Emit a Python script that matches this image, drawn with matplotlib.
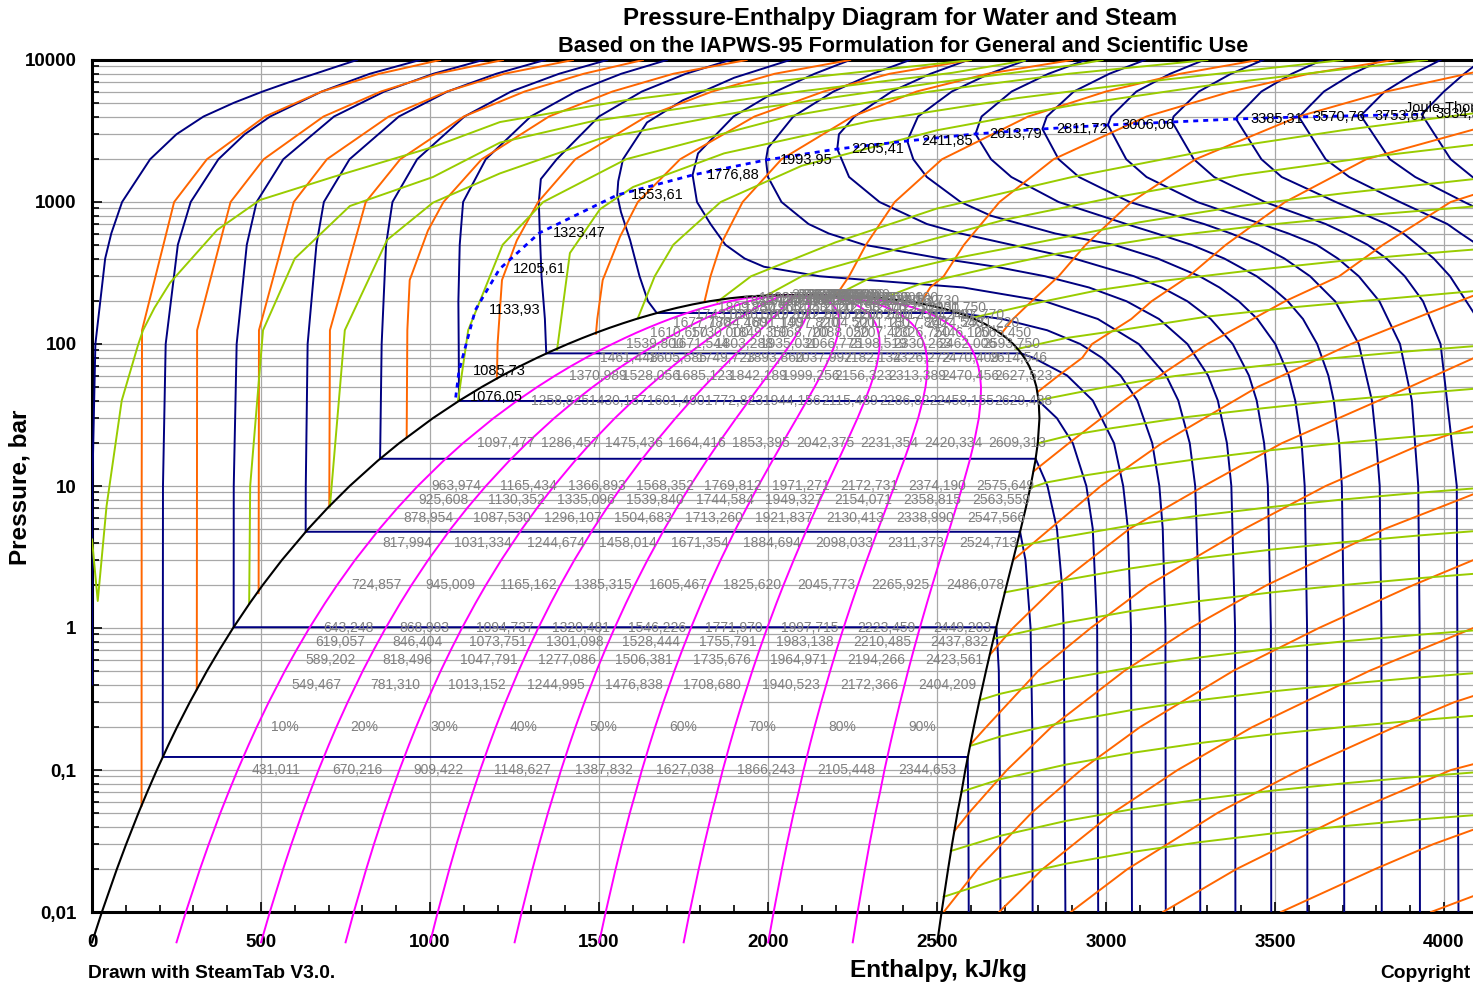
import matplotlib
matplotlib.use("Agg")
import matplotlib.pyplot as plt
from matplotlib.ticker import FixedLocator, FixedFormatter, NullFormatter

plt.rcParams['font.family'] = ['Liberation Sans', 'DejaVu Sans']

# ---------------- data (enthalpy kJ/kg, pressure bar) ----------------
sat_p = [0.006117, 0.01, 0.02, 0.03, 0.05, 0.07, 0.1, 0.15, 0.2, 0.3, 0.5, 0.7, 1, 1.5, 2, 3, 5, 7,
         10, 15, 20, 30, 40, 50, 60, 70, 80, 90, 100, 110, 120, 130, 140, 150, 160, 170, 180, 190,
         200, 205, 210, 215, 218, 220, 220.5, 220.64]
sat_hf = [0.0, 29.3, 73.4, 101.0, 137.7, 163.4, 191.8, 226.0, 251.4, 289.3, 340.5, 376.8, 417.4,
          467.1, 504.7, 561.4, 640.1, 697.1, 762.5, 844.6, 908.5, 1008.3, 1087.4, 1154.5, 1213.7,
          1267.4, 1317.1, 1363.7, 1407.9, 1450.3, 1491.3, 1531.4, 1571.1, 1610.2, 1650.5, 1690.0,
          1732.0, 1776.9, 1826.6, 1857.0, 1888.0, 1930.0, 1966.0, 2011.0, 2042.0, 2084.3]
sat_hg = [2500.9, 2513.7, 2532.9, 2544.7, 2560.7, 2572.6, 2583.9, 2598.3, 2608.9, 2624.6, 2645.2,
          2659.4, 2674.9, 2693.1, 2706.2, 2724.9, 2748.1, 2762.8, 2777.1, 2791.0, 2798.3, 2803.3,
          2800.8, 2794.2, 2784.6, 2772.6, 2758.7, 2742.9, 2725.5, 2706.3, 2684.8, 2662.7, 2637.9,
          2610.7, 2580.8, 2547.5, 2509.5, 2465.4, 2412.3, 2377.0, 2337.0, 2283.0, 2230.0, 2165.0,
          2128.0, 2084.3]
qualities = [0.1, 0.2, 0.3, 0.4, 0.5, 0.6, 0.7, 0.8, 0.9]

# isotherms 0, 50, ... 950 C
isotherms = [
    [(784, 10000), (725, 9000), (660, 8000), (585, 7000), (505, 6000), (420, 5000), (330, 4000),
     (250, 3000), (172, 2000), (89, 1000), (57, 600), (39, 400), (10, 100), (1, 10), (0.5, 1), (0.5, 0.4)],
    [(970, 10000), (822, 8000), (680, 6000), (527, 4000), (452, 3000), (374, 2000), (292, 1000),
     (254, 500), (218, 100), (210, 10), (209.3, 0.1235), (2591, 0.1235), (2593, 0.05), (2594, 0.01)],
    [(1157, 10000), (1010, 8000), (865, 6000), (716, 4000), (566, 2000), (487, 1000), (458, 500),
     (428, 100), (419.4, 10), (419.1, 1.013), (2676, 1.013), (2683, 0.5), (2686, 0.1), (2688, 0.01)],
    [(1340, 10000), (1196, 8000), (1052, 6000), (908, 4000), (762, 2000), (686, 1000), (664, 500),
     (638, 100), (632.5, 10), (632.2, 4.76), (2746, 4.76), (2762, 3), (2777, 1), (2782, 0.2), (2783, 0.01)],
    [(1524, 10000), (1382, 8000), (1240, 6000), (1102, 4000), (962, 2000), (889, 1000), (870, 500),
     (857, 100), (853, 20), (852.3, 15.55), (2792, 15.55), (2827, 10), (2855, 5), (2870, 2), (2875, 1),
     (2880, 0.01)],
    [(1701, 10000), (1566, 8000), (1432, 6000), (1298, 4000), (1165, 2000), (1098, 1000), (1088, 500),
     (1084, 200), (1085, 100), (1085.8, 39.7), (2801, 39.7), (2855, 30), (2902, 20), (2942, 10),
     (2961, 5), (2974, 1), (2977, 0.01)],
    [(1888, 10000), (1757, 8000), (1627, 6000), (1500, 4000), (1375, 2000), (1328, 1450), (1322, 1000),
     (1325, 600), (1330, 300), (1340, 150), (1344, 85.9), (2749, 85.9), (2785, 80), (2885, 60),
     (2961, 40), (3024, 20), (3051, 10), (3065, 5), (3074, 1), (3077, 0.01)],
    [(2065, 10000), (1900, 7500), (1748, 5200), (1642, 3630), (1571, 2000), (1557, 1400), (1554, 1119),
     (1565, 850), (1592, 540), (1620, 300), (1645, 200), (1671, 165.3), (2563, 165.3), (2693, 150),
     (2826, 125), (2924, 100), (2988, 80), (3043, 60), (3093, 40), (3137, 20), (3158, 10), (3168, 5),
     (3176, 1), (3177, 0.01)],
    [(2243, 10000), (2138, 8000), (2023, 6000), (1898, 4000), (1793, 2200), (1777, 1549), (1790, 1000),
     (1830, 700), (1874, 500), (1931, 400), (1988, 350), (2152, 300), (2578, 250), (2819, 200),
     (2976, 150), (3097, 100), (3178, 60), (3214, 40), (3248, 20), (3264, 10), (3278, 1), (3279, 0.01)],
    [(2420, 10000), (2310, 8000), (2194, 6000), (2075, 4000), (2000, 2400), (1994, 1977), (2000, 1500),
     (2040, 1000), (2120, 700), (2180, 600), (2284, 500), (2512, 400), (2674, 350), (2820, 300),
     (2950, 250), (3061, 200), (3157, 150), (3241, 100), (3302, 60), (3331, 40), (3358, 20), (3371, 10),
     (3382, 1), (3383, 0.01)],
    [(2592, 10000), (2481, 8000), (2366, 6000), (2256, 4000), (2210, 3000), (2205, 2362), (2240, 1500),
     (2330, 1000), (2470, 700), (2570, 600), (2720, 500), (2906, 400), (3083, 300), (3165, 250),
     (3241, 200), (3310, 150), (3375, 100), (3423, 60), (3446, 40), (3468, 20), (3479, 10), (3488, 1),
     (3489, 0.01)],
    [(2765, 10000), (2655, 8000), (2544, 6000), (2444, 4000), (2412, 2691), (2430, 2000), (2470, 1500),
     (2570, 1000), (2660, 800), (2850, 600), (3023, 500), (3153, 400), (3277, 300), (3336, 250),
     (3393, 200), (3448, 150), (3501, 100), (3541, 60), (3560, 40), (3579, 20), (3588, 10), (3595, 1),
     (3596, 0.01)],
    [(2940, 10000), (2830, 8000), (2721, 6000), (2632, 4000), (2614, 3015), (2660, 2000), (2720, 1500),
     (2860, 1000), (3060, 700), (3150, 600), (3252, 500), (3350, 400), (3446, 300), (3491, 250),
     (3538, 200), (3583, 150), (3625, 100), (3658, 60), (3674, 40), (3690, 20), (3698, 10), (3704, 1),
     (3705, 0.01)],
    [(3115, 10000), (3010, 8000), (2905, 6000), (2825, 4000), (2812, 3268), (2860, 2000), (2920, 1500),
     (3070, 1000), (3290, 700), (3370, 600), (3451, 500), (3528, 400), (3604, 300), (3678, 200),
     (3748, 100), (3787, 40), (3800, 20), (3810, 10), (3815, 1), (3816, 0.01)],
    [(3290, 10000), (3190, 8000), (3090, 6000), (3015, 4000), (3006, 3486), (3060, 2000), (3120, 1500),
     (3270, 1000), (3460, 700), (3540, 600), (3623, 500), (3686, 400), (3748, 300), (3809, 200),
     (3870, 100), (3905, 40), (3924, 10), (3928, 1), (3929, 0.01)],
    [(3465, 10000), (3370, 8000), (3275, 6000), (3200, 4000), (3196, 3660), (3260, 2000), (3320, 1500),
     (3470, 1000), (3650, 700), (3710, 600), (3774, 500), (3830, 400), (3884, 300), (3938, 200),
     (3990, 100), (4038, 10), (4043, 0.01)],
    [(3640, 10000), (3550, 8000), (3460, 6000), (3388, 4000), (3385, 3843), (3460, 2000), (3520, 1500),
     (3680, 1000), (3830, 700), (3880, 600), (3921, 500), (3970, 400), (4018, 300), (4066, 200),
     (4100, 150)],
    [(3815, 10000), (3730, 8000), (3645, 6000), (3571, 3970), (3650, 2000), (3720, 1500), (3870, 1000),
     (4010, 700), (4050, 600), (4100, 500)],
    [(3990, 10000), (3910, 8000), (3825, 6000), (3754, 4060), (3840, 2000), (3915, 1500), (4060, 1000),
     (4100, 900)],
    [(4100, 9500), (4060, 8000), (4000, 6000), (3934, 4150), (4020, 2000), (4100, 1400)],
]

# isentropes s = 0.5 ... 11.5 kJ/kgK
isentropes = [
    [(1030, 10000), (850, 8000), (680, 6000), (512, 4000), (340, 2000), (243, 1000), (148, 125), (147, 10), (146.6, 0.056)],
    [(1216, 10000), (1020, 8000), (855, 6000), (685, 4000), (508, 2000), (410, 1000), (311, 125), (310, 0.37)],
    [(1423, 10000), (1220, 8000), (1050, 6000), (878, 4000), (695, 2000), (597, 1000), (494, 125), (493, 1.76)],
    [(1630, 10000), (1455, 8000), (1280, 6000), (1100, 4000), (912, 2000), (810, 1000), (704, 125), (702, 7.2)],
    [(1937, 10000), (1720, 8000), (1540, 6000), (1352, 4000), (1153, 2000), (1040, 1000), (994, 630), (940, 282),
     (933, 125), (931, 22)],
    [(2243, 10000), (2020, 8000), (1835, 6000), (1640, 4000), (1430, 2000), (1320, 1000), (1257, 537), (1213, 282),
     (1200, 100), (1198, 57)],
    [(2600, 10000), (2360, 8000), (2165, 6000), (1960, 4000), (1740, 2000), (1615, 1000), (1562, 568), (1511, 282),
     (1495, 150), (1491, 118)],
    [(2900, 10000), (2650, 8000), (2440, 6000), (2250, 4000), (2040, 2000), (1925, 1000), (1860, 500), (1830, 300),
     (1812, 198)],
    [(3450, 10000), (3220, 8000), (3000, 6000), (2770, 4000), (2515, 2000), (2375, 1000), (2290, 500), (2240, 300),
     (2200, 217)],
    [(3850, 10000), (3600, 8000), (3370, 6000), (3120, 4000), (2845, 2000), (2685, 1000), (2580, 500), (2520, 300),
     (2480, 250), (2450, 191)],
    [(4100, 8300), (3830, 6000), (3570, 4000), (3265, 2000), (3075, 1000), (2940, 500), (2860, 300), (2780, 200),
     (2725, 150), (2690, 118)],
    [(4100, 3300), (3770, 2000), (3530, 1000), (3355, 500), (3245, 300), (3135, 200), (3075, 150), (2959, 100),
     (2930, 80), (2860, 60), (2798, 46)],
    [(4100, 1150), (4020, 1000), (3820, 500), (3690, 300), (3530, 200), (3300, 100), (3160, 60), (3055, 40),
     (2890, 20), (2786, 12.7)],
    [(4100, 225), (3940, 160), (3725, 100), (3450, 50), (3165, 20), (2985, 10), (2835, 5), (2725, 3)],
    [(4100, 82), (3900, 50), (3520, 20), (3290, 10), (3070, 5), (2855, 2), (2725, 1), (2657, 0.65)],
    [(4100, 27), (3940, 20), (3650, 10), (3410, 5), (3125, 2), (2955, 1), (2800, 0.5), (2645, 0.2), (2600, 0.152)],
    [(4100, 9), (3826, 5), (3475, 2), (3250, 1), (3055, 0.5), (2838, 0.2), (2707, 0.1), (2595, 0.05), (2552, 0.0373)],
    [(4100, 3.1), (3908, 2), (3630, 1), (3377, 0.5), (3100, 0.2), (2926, 0.1), (2780, 0.05), (2620, 0.02), (2520, 0.01)],
    [(4100, 1.03), (3780, 0.5), (3432, 0.2), (3212, 0.1), (3021, 0.05), (2812, 0.02), (2684, 0.01)],
    [(4100, 0.34), (4030, 0.3), (3853, 0.2), (3573, 0.1), (3331, 0.05), (3063, 0.02), (2896, 0.01)],
    [(4100, 0.112), (4021, 0.1), (3723, 0.05), (3385, 0.02), (3169, 0.01)],
    [(4100, 0.039), (3968, 0.03), (3795, 0.02), (3518, 0.01)],
    [(4100, 0.0133), (3962, 0.01)],
]

# isochores, density 1000 ... 0.01 kg/m3
isochores = [
    [(0, 4.2), (17, 1.55), (43, 7.2), (88, 40), (136, 98), (151, 125), (185, 180), (231, 270), (370, 635),
     (497, 1033), (713, 1500), (1009, 2440), (1207, 3656), (1576, 5200), (2130, 7566), (2580, 9866), (2600, 10000)],
    [(465, 1.48), (468, 10), (506, 125), (600, 400), (763, 937), (1009, 1500), (1207, 2620), (1483, 3720),
     (2075, 5920), (2545, 8120), (2760, 9900)],
    [(704, 7.2), (748, 125), (873, 540), (1009, 990), (1207, 1590), (1504, 2800), (1990, 4640), (2500, 6940),
     (2910, 9240), (2990, 10000)],
    [(1083, 40), (1113, 125), (1215, 500), (1335, 1000), (1580, 2000), (2060, 4000), (2480, 6000), (2890, 8000),
     (3300, 10000)],
    [(1376, 91), (1414, 437), (1503, 890), (1601, 1276), (1870, 2200), (2300, 3700), (2740, 5400), (3180, 7300),
     (3600, 9400), (3700, 10000)],
    [(1615, 152), (1665, 300), (1720, 500), (1860, 1000), (2100, 1800), (2500, 3200), (2900, 4800), (3300, 6600),
     (3700, 8600), (3950, 10000)],
    [(1850, 198), (1950, 300), (2200, 520), (2500, 900), (2900, 1500), (3300, 2300), (3700, 3200), (4100, 4250)],
    [(1990, 216), (2100, 300), (2400, 480), (2700, 750), (3000, 1050), (3400, 1550), (3800, 2100), (4100, 2550)],
    [(2200, 220), (2300, 290), (2550, 400), (2800, 520), (3100, 720), (3400, 940), (3700, 1150), (4100, 1460)],
    [(2340, 210), (2450, 265), (2672, 350), (2850, 430), (3150, 560), (3450, 680), (3750, 800), (4100, 935)],
    [(2605, 153), (2819, 200), (2980, 240), (3150, 275), (3430, 330), (3720, 390), (4000, 445), (4100, 465)],
    [(2735, 92), (2880, 110), (3041, 125), (3300, 156), (3560, 182), (3820, 207), (4100, 237)],
    [(2801, 40.2), (2985, 49), (3100, 54.6), (3205, 59.5), (3445, 69.6), (3670, 79.4), (3900, 89), (4100, 97)],
    [(2799, 20), (2895, 22.8), (3020, 25.6), (3235, 30.5), (3465, 35.3), (3685, 40.0), (3915, 44.7), (4100, 48.6)],
    [(2776, 9.7), (2825, 10.6), (2940, 11.9), (3055, 13.1), (3265, 15.4), (3481, 17.8), (3698, 20.1), (3924, 22.4),
     (4100, 24.1)],
    [(2737, 3.75), (2762, 3.85), (2862, 4.32), (3068, 5.25), (3274, 6.18), (3486, 7.1), (3702, 8.04), (3927, 8.97),
     (4100, 9.66)],
    [(2700, 1.78), (2776, 1.93), (2875, 2.17), (3074, 2.63), (3277, 3.10), (3488, 3.56), (3704, 4.02), (3929, 4.49),
     (4100, 4.83)],
    [(2668, 0.84), (2687, 0.861), (2880, 1.09), (3077, 1.32), (3279, 1.55), (3489, 1.78), (3705, 2.01), (3929, 2.245),
     (4100, 2.42)],
    [(2627, 0.311), (2687, 0.344), (2880, 0.437), (3077, 0.529), (3279, 0.621), (3489, 0.714), (3705, 0.806),
     (3929, 0.898), (4100, 0.966)],
    [(2599, 0.148), (2687, 0.172), (2880, 0.218), (3077, 0.2645), (3279, 0.311), (3489, 0.357), (3705, 0.403),
     (3929, 0.449), (4100, 0.483)],
    [(2572, 0.0703), (2687, 0.0861), (2880, 0.109), (3077, 0.132), (3279, 0.155), (3489, 0.178), (3705, 0.201),
     (3929, 0.2245), (4100, 0.242)],
    [(2541, 0.0269), (2687, 0.0344), (2880, 0.0437), (3077, 0.0529), (3279, 0.0621), (3489, 0.0714), (3705, 0.0806),
     (3929, 0.0898), (4100, 0.0966)],
    [(2520, 0.0128), (2687, 0.01722), (2880, 0.02184), (3077, 0.02645), (3279, 0.03106), (3489, 0.03568),
     (3705, 0.04029), (3929, 0.0449), (4100, 0.0483)],
]

# Joule-Thomson inversion curve
jt_h = [1076.05, 1085.73, 1133.93, 1205.61, 1323.47, 1553.61, 1776.88, 1993.95, 2205.41, 2411.85,
        2613.79, 2811.72, 3006.06, 3196.0, 3385.31, 3570.76, 3753.67, 3934.55]
jt_p = [42, 64.6, 173, 337, 605, 1119, 1549, 1977, 2362, 2691, 3015, 3268, 3486, 3660, 3843, 3970, 4060, 4150]
jt_text = ["1076,05", "1085,73", "1133,93", "1205,61", "1323,47", "1553,61", "1776,88", "1993,95", "2205,41",
           "2411,85", "2613,79", "2811,72", "3006,06", "", "3385,31", "3570,76", "3753,67", "3934,55"]

# enthalpy labels on the quality lines (10% ... 90%) along isobars
label_p = [0.1, 0.4, 0.6, 0.8, 1, 2, 4, 6, 8, 10, 20, 40, 60, 80, 100, 120, 140, 160, 180, 200, 210, 220]
label_rows = [
    "431,011 670,216 909,422 1148,627 1387,832 1627,038 1866,243 2105,448 2344,653",
    "549,467 781,310 1013,152 1244,995 1476,838 1708,680 1940,523 2172,366 2404,209",
    "589,202 818,496 1047,791 1277,086 1506,381 1735,676 1964,971 2194,266 2423,561",
    "619,057 846,404 1073,751 1301,098 1528,444 1755,791 1983,138 2210,485 2437,832",
    "643,248 868,993 1094,737 1320,481 1546,226 1771,970 1997,715 2223,459 2449,203",
    "724,857 945,009 1165,162 1385,315 1605,467 1825,620 2045,773 2265,925 2486,078",
    "817,994 1031,334 1244,674 1458,014 1671,354 1884,694 2098,033 2311,373 2524,713",
    "878,954 1087,530 1296,107 1504,683 1713,260 1921,837 2130,413 2338,990 2547,566",
    "925,608 1130,352 1335,096 1539,840 1744,584 1949,327 2154,071 2358,815 2563,559",
    "963,974 1165,434 1366,893 1568,352 1769,812 1971,271 2172,731 2374,190 2575,649",
    "1097,477 1286,457 1475,436 1664,416 1853,395 2042,375 2231,354 2420,334 2609,313",
    "1258,825 1430,157 1601,490 1772,823 1944,156 2115,489 2286,822 2458,155 2629,488",
    "1370,989 1528,056 1685,123 1842,189 1999,256 2156,323 2313,389 2470,456 2627,523",
    "1461,448 1605,585 1749,723 1893,860 2037,997 2182,134 2326,272 2470,409 2614,546",
    "1539,800 1671,544 1803,288 1935,031 2066,775 2198,519 2330,263 2462,006 2593,750",
    "1610,650 1730,000 1849,350 1968,700 2088,050 2207,400 2326,750 2446,100 2565,450",
    "1677,780 1784,460 1891,140 1997,820 2104,500 2211,180 2317,860 2424,540 2531,220",
    "1743,530 1836,560 1929,590 2022,620 2115,650 2208,680 2301,710 2394,740 2487,770",
    "1809,750 1887,500 1965,250 2043,000 2120,750 2198,500 2276,250 2354,000 2431,750",
    "1885,170 1943,740 2002,310 2060,880 2119,450 2178,020 2236,590 2295,160 2353,730",
    "1932,900 1977,800 2022,700 2067,600 2112,500 2157,400 2202,300 2247,200 2292,100",
    "2026,400 2041,800 2057,200 2072,600 2088,000 2103,400 2118,800 2134,200 2149,600",
]
pct_p = 0.2
pct_h = [487.2, 722.9, 958.7, 1194.4, 1430.2, 1665.9, 1901.7, 2137.4, 2373.2]
pct_text = ["10%", "20%", "30%", "40%", "50%", "60%", "70%", "80%", "90%"]

x_ticks = [0, 500, 1000, 1500, 2000, 2500, 3000, 3500, 4000]
y_ticks = [0.01, 0.1, 1, 10, 100, 1000, 10000]
y_tick_text = ["0,01", "0,1", "1", "10", "100", "1000", "10000"]

# ---------------- figure ----------------
W, H = 1473, 990
fig = plt.figure(figsize=(W / 100, H / 100), dpi=100)
ax = fig.add_axes([92 / W, 1 - 912 / H, (W - 92) / W, (912 - 60) / H])
ax.set_yscale('log')
ax.set_xlim(0, 4086)
ax.set_ylim(0.01, 10000)

minor_y = [k * 10.0 ** e for e in range(-2, 4) for k in range(2, 10)]
ax.yaxis.set_major_locator(FixedLocator(y_ticks))
ax.yaxis.set_major_formatter(FixedFormatter(y_tick_text))
ax.yaxis.set_minor_locator(FixedLocator(minor_y))
ax.yaxis.set_minor_formatter(NullFormatter())
ax.xaxis.set_major_locator(FixedLocator(x_ticks))
ax.xaxis.set_major_formatter(FixedFormatter([str(v) for v in x_ticks]))
ax.xaxis.set_minor_locator(FixedLocator([v for v in range(0, 4100, 100) if v % 500]))

grid_kw = dict(color='#a8a8a8', lw=0.9, zorder=0)
ax.grid(which='major', axis='both', **grid_kw)
ax.grid(which='minor', axis='y', **grid_kw)
ax.set_axisbelow(True)

ax.tick_params(which='both', direction='in', color='black', width=1.2)
ax.tick_params(which='major', length=7)
ax.tick_params(which='minor', length=5)
ax.tick_params(axis='x', pad=16, labelsize=13.5)
ax.tick_params(axis='y', pad=11, labelsize=13.5)
for lab in ax.get_xticklabels() + ax.get_yticklabels():
    lab.set_fontweight('bold')

for side in ['left', 'bottom', 'top']:
    ax.spines[side].set_linewidth(2.2)
ax.spines['right'].set_visible(False)

lw = 1.4
for pts in isotherms:
    ax.plot([a for a, b in pts], [b for a, b in pts], color='#000080', lw=lw, zorder=3)
for pts in isentropes:
    ax.plot([a for a, b in pts], [b for a, b in pts], color='#ff6600', lw=lw, zorder=3)
for pts in isochores:
    ax.plot([a for a, b in pts], [b for a, b in pts], color='#99cc00', lw=lw, zorder=3)

# quality lines between the two saturation branches
for x in qualities:
    hq = [f + x * (g - f) for f, g in zip(sat_hf, sat_hg)]
    ax.plot(hq, sat_p, color='#ff00ff', lw=lw, zorder=4, clip_on=False)

# saturation dome
ax.plot(sat_hf + sat_hg[::-1], sat_p + sat_p[::-1], color='black', lw=1.5, zorder=5, clip_on=False)

# Joule-Thomson inversion curve
ax.plot(jt_h, jt_p, color='#0000ff', lw=2.0, linestyle=(0, (1.8, 1.8)), zorder=6)
for h, p, t in zip(jt_h, jt_p, jt_text):
    if t:
        ax.annotate(t, (h, p), xytext=(10, 0), textcoords='offset points', ha='left', va='center',
                    fontsize=10.5, color='black', zorder=8)
ax.annotate("Joule-Thomson Inversion Curve", (3885, 4600), ha='left', va='center', fontsize=10.5,
            color='black', annotation_clip=False, zorder=8)

for p, row in zip(label_p, label_rows):
    for t in row.split():
        h = float(t.replace(',', '.'))
        ax.annotate(t, (h, p), xytext=(10, 0), textcoords='offset points', ha='left', va='center',
                    fontsize=10, color='#808080', zorder=7)
for h, t in zip(pct_h, pct_text):
    ax.annotate(t, (h, pct_p), xytext=(10, 0), textcoords='offset points', ha='left', va='center',
                fontsize=10, color='#808080', zorder=7)

# ---------------- texts ----------------
fig.text(900 / W, 1 - 18 / H, "Pressure-Enthalpy Diagram for Water and Steam", ha='center', va='center',
         fontsize=17.3, fontweight='bold')
fig.text(903 / W, 1 - 47 / H, "Based on the IAPWS-95 Formulation for General and Scientific Use",
         ha='center', va='center', fontsize=15.6, fontweight='bold')
fig.text(20 / W, 1 - 487 / H, "Pressure, bar", rotation=90, ha='center', va='center', fontsize=17.5,
         fontweight='bold')
fig.text(938 / W, 1 - 971 / H, "Enthalpy, kJ/kg", ha='center', va='center', fontsize=17.5, fontweight='bold')
fig.text(88 / W, 1 - 974 / H, "Drawn with SteamTab V3.0.", ha='left', va='center', fontsize=13.8,
         fontweight='bold')
fig.text(1380 / W, 1 - 974 / H, "Copyright", ha='left', va='center', fontsize=13.8, fontweight='bold')

fig.savefig("out.png", dpi=100)
